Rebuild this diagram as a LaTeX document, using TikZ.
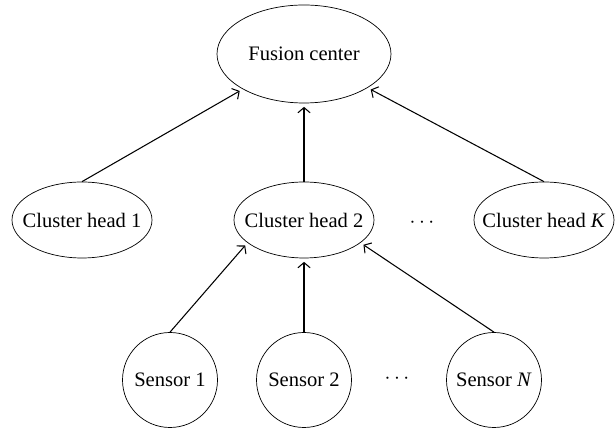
\documentclass[tikz,border=0pt]{standalone}
\usepackage{fontspec}
\setmainfont{Liberation Serif}
\usetikzlibrary{shapes.geometric,arrows.meta}
\begin{document}
\begin{tikzpicture}[
	every node/.style={font=\fontsize{11.7}{14}\selectfont},
	every label/.style={font=\fontsize{11.7}{14}\selectfont,inner sep=0pt},
	bigoval/.style={draw,ellipse,inner sep=0pt,minimum width=3.48cm,minimum height=1.96cm},
	headoval/.style={draw,ellipse,inner sep=0pt,minimum width=2.8cm,minimum height=1.52cm},
	sensorcirc/.style={draw,circle,inner sep=0pt,minimum size=1.9cm},
	link/.style={black,solid,semithick,-{Straight Barb[length=3pt,width=7pt]},shorten >=2pt}]
	\useasboundingbox (0,0) rectangle (12.3,8.58);
	\node[bigoval,label=center:{Fusion center}] (fc) at (6.08,7.5) {};
	\node[headoval,label=center:{Cluster head 1}] (ch1) at (1.64,4.18) {};
	\node[headoval,label=center:{Cluster head 2}] (ch2) at (6.08,4.18) {};
	\node[headoval,label=center:{Cluster head \emph{K}}] (chK) at (10.88,4.18) {};
	\node (hdots) at (8.44,4.12) {$\cdots$};
	\node[sensorcirc,label=center:{Sensor 1}] (s1) at (3.4,0.98) {};
	\node[sensorcirc,label=center:{Sensor 2}] (s2) at (6.08,0.98) {};
	\node[sensorcirc,label=center:{Sensor \emph{N}}] (sN) at (9.88,0.98) {};
	\node (sdots) at (7.94,1.0) {$\cdots$};
	\draw[link] (ch1.north)--(fc);
	\draw[link] (ch2.north)--(fc.south);
	\draw[link] (chK.north)--(fc);
	\draw[link] (s1.north)--(ch2.202);
	\draw[link] (s2.north)--(ch2.south);
	\draw[link] (sN.north)--(ch2.338);
\end{tikzpicture}
\end{document}
